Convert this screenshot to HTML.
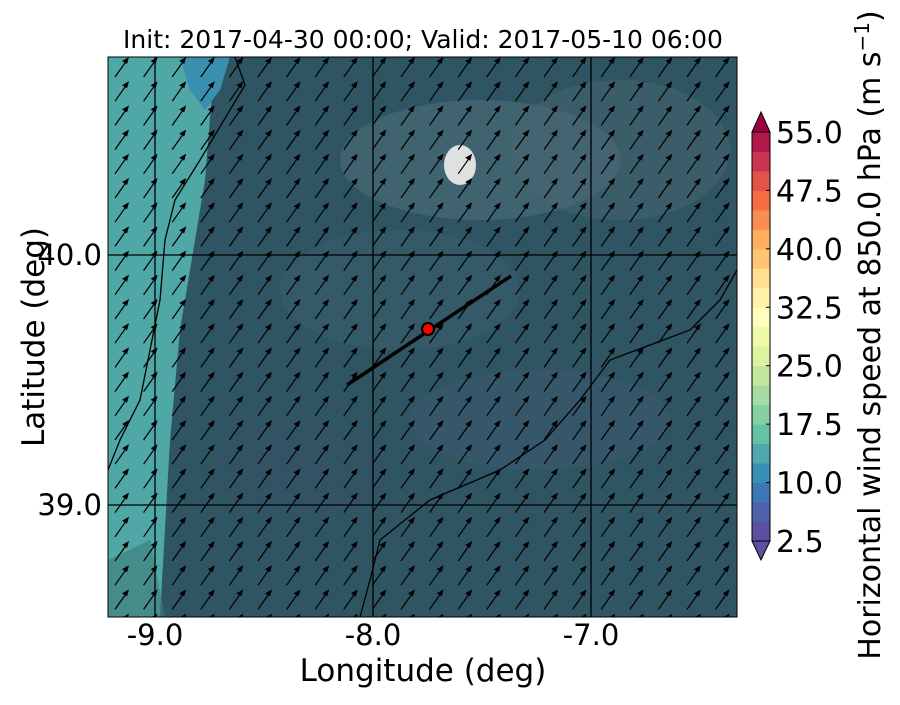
<!DOCTYPE html>
<html><head><meta charset="utf-8"><style>
body{margin:0;background:#fff;width:900px;height:700px;overflow:hidden;font-family:"Liberation Sans","DejaVu Sans",sans-serif}
</style></head><body>
<svg id="s" width="900" height="700" xmlns="http://www.w3.org/2000/svg" font-family="DejaVu Sans, Liberation Sans, sans-serif">
<defs><clipPath id="c"><rect x="108" y="57" width="629" height="560"/></clipPath></defs>
<g clip-path="url(#c)">
<rect x="108" y="57" width="629" height="560" fill="#2f5562"/>
<path d="M108 57 L215 57 L205 180 L180 330 L170 440 L160 617 L108 617Z" fill="#4fa8a6"/>
<path d="M180 57 L230 57 L220 90 L205 110 L190 90Z" fill="#3a8fae"/>
<ellipse cx="480" cy="160" rx="140" ry="60" fill="#4d6d7a" opacity="0.6"/>
<ellipse cx="620" cy="150" rx="110" ry="70" fill="#46666f" opacity="0.5"/>
<ellipse cx="400" cy="290" rx="120" ry="60" fill="#3d6070" opacity="0.4"/>
<ellipse cx="540" cy="420" rx="130" ry="50" fill="#3d5a70" opacity="0.5"/>
<ellipse cx="300" cy="470" rx="90" ry="50" fill="#36506a" opacity="0.4"/>
<ellipse cx="460" cy="165" rx="16" ry="20" fill="#dfe0e0"/>
<path d="M108 560 L150 540 L165 617 L108 617Z" fill="#3f7a78" opacity="0.6"/>
<g stroke="#000" stroke-width="1.3" fill="none">
<line x1="155" y1="57" x2="155" y2="617"/><line x1="373" y1="57" x2="373" y2="617"/><line x1="591" y1="57" x2="591" y2="617"/>
<line x1="108" y1="255" x2="737" y2="255"/><line x1="108" y1="505" x2="737" y2="505"/>
<path d="M108 470 L120 440 L140 400 L160 300 L165 240 L175 200 L200 160 L230 110 L245 85 L235 57"/>
<path d="M737 270 L720 300 L690 330 L650 345 L610 360 L580 400 L545 440 L500 470 L430 500 L380 540 L370 580 L360 617"/>
</g>
<g id="arr"></g>
<line x1="347" y1="385" x2="511" y2="276" stroke="#000" stroke-width="3.5"/>
<circle cx="428" cy="329" r="6" fill="#f00" stroke="#000" stroke-width="2"/>
</g>
<rect x="108" y="57" width="629" height="560" fill="none" stroke="#000" stroke-width="1"/>
<text x="423" y="48" font-size="25" text-anchor="middle">Init: 2017-04-30 00:00; Valid: 2017-05-10 06:00</text>
<g font-size="29" text-anchor="middle">
<text x="155" y="645">-9.0</text><text x="373" y="645">-8.0</text><text x="591" y="645">-7.0</text>
<text x="423" y="681" font-size="31">Longitude (deg)</text>
</g>
<g font-size="29" text-anchor="end"><text x="102" y="265">40.0</text><text x="102" y="515">39.0</text></g>
<text transform="translate(44,337) rotate(-90)" font-size="31" text-anchor="middle">Latitude (deg)</text>
<g id="cb"></g>
<text transform="translate(880,335) rotate(-90)" font-size="30" text-anchor="middle">Horizontal wind speed at 850.0 hPa (m s<tspan dy="-11" font-size="20">−1</tspan><tspan dy="11">)</tspan></text>
</svg>
<script>
var g=document.getElementById("arr"),h="";
for(var r=0;r<24;r++)for(var c=0;c<23;c++){var x=121+c*28.6,y=68+r*24.2;
h+='<line x1="'+(x-6)+'" y1="'+(y+9)+'" x2="'+(x+6)+'" y2="'+(y-8)+'" stroke="#000" stroke-width="1.2"/><polygon points="'+(x+8)+','+(y-11)+' '+(x+1)+','+(y-7)+' '+(x+6)+','+(y-4)+'" fill="#000"/>';}
g.innerHTML=h;
var cols=["#5e4fa2","#4e61aa","#3f77b4","#3a8fb7","#4fa8ad","#66c2a5","#86cfa5","#a5dba4","#c3e79e","#def2a0","#f0f8aa","#fefebd","#fff1a8","#fee090","#fdc574","#fdae61","#f98e52","#f46d43","#e2534a","#cc3350","#b0174b"];
var cb=document.getElementById("cb"),s="",bh=(541-132)/21;
for(var i=0;i<21;i++){s+='<rect x="752" y="'+(541-(i+1)*bh)+'" width="18" height="'+(bh+0.5)+'" fill="'+cols[i]+'"/>';}
s+='<polygon points="752,132 770,132 761,112" fill="#9e0142" stroke="#000"/><polygon points="752,541 770,541 761,560" fill="#5e4fa2" stroke="#000"/>';
s+='<rect x="752" y="132" width="18" height="409" fill="none" stroke="#000"/>';
var labs=["55.0","47.5","40.0","32.5","25.0","17.5","10.0","2.5"];
for(var j=0;j<8;j++){var y=132+j*3*bh;s+='<line x1="766" x2="770" y1="'+y+'" y2="'+y+'" stroke="#000"/><text x="776" y="'+(y+11)+'" font-size="30">'+labs[j]+'</text>';}
cb.innerHTML=s;
</script>
</body></html>
